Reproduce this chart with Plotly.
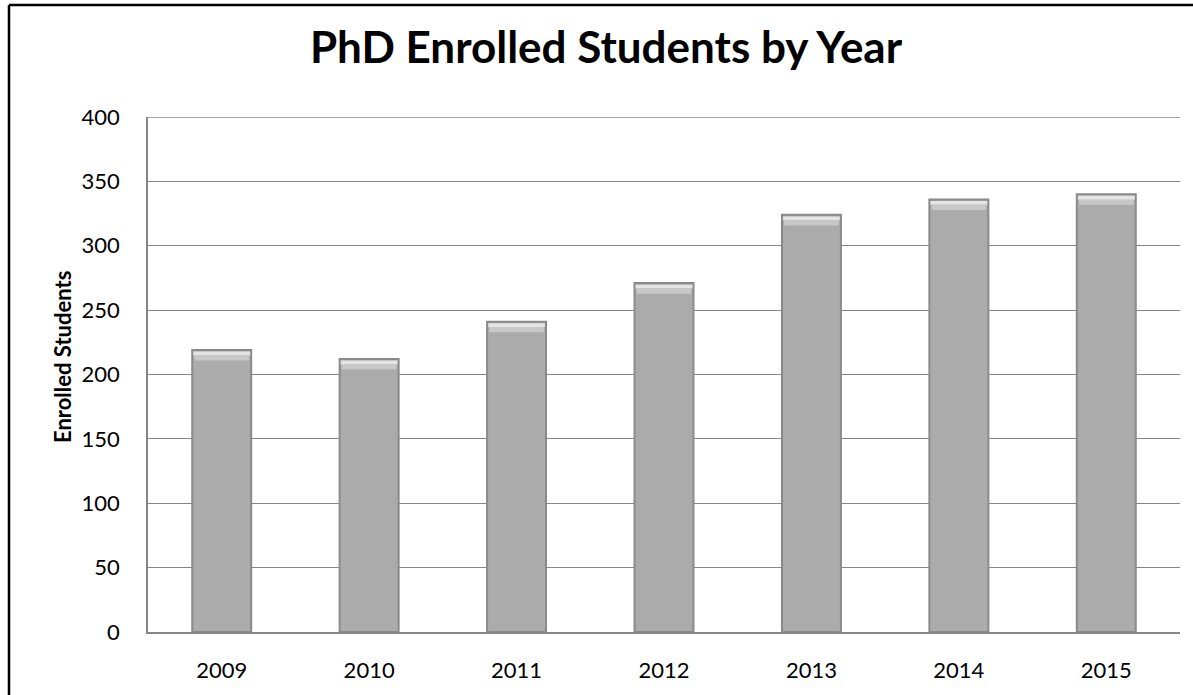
import plotly.graph_objects as go

years = ["2009", "2010", "2011", "2012", "2013", "2014", "2015"]
enrolled = [219, 212, 241, 271, 324, 336, 340]
y_ticks = [0, 50, 100, 150, 200, 250, 300, 350, 400]

FONT = "Lato"
W, H = 1193, 695
L, R, T, B = 148, 13, 117, 63
pw, ph = W - L - R, H - T - B

fig = go.Figure()

# main gray columns
fig.add_trace(go.Bar(
    x=years, y=enrolled,
    marker=dict(color="#ababab", line=dict(color="#8a8a8a", width=2)),
    width=0.4, hoverinfo="x+y",
))
# light bevel bands across each column top
for h, off, col, wd in [(3, 1.2, "#e4e4e4", 0.385), (4, 4.2, "#c8c8c8", 0.37)]:
    fig.add_trace(go.Bar(
        x=years, y=[h] * len(enrolled), base=[v - off - h for v in enrolled],
        marker=dict(color=col, line=dict(width=0)),
        width=wd, hoverinfo="skip",
    ))

def px_x(p):
    return (p - L) / pw

def px_y(p):
    return (H - B - p) / ph

fig.update_layout(
    width=W, height=H,
    margin=dict(l=L, r=R, t=T, b=B),
    paper_bgcolor="white", plot_bgcolor="white",
    barmode="overlay", showlegend=False,
    font=dict(family=FONT, color="black", size=22),
    title=dict(
        text="<b>PhD Enrolled Students by Year</b>",
        x=606 / W, xanchor="center", y=1 - 48 / H, yanchor="middle",
        font=dict(family=FONT, size=44, color="black"),
    ),
    xaxis=dict(
        showline=True, linecolor="#868686", linewidth=1.5,
        ticks="", tickfont=dict(size=22), ticklabelstandoff=18,
        showgrid=False, fixedrange=True,
    ),
    yaxis=dict(
        range=[0, 400], tickvals=y_ticks,
        showline=True, linecolor="#868686", linewidth=1.5,
        showgrid=True, gridcolor="#868686", gridwidth=1,
        ticks="", tickfont=dict(size=22), ticklabelstandoff=22,
        zeroline=False,
    ),
    annotations=[
        dict(text="<b>Enrolled Students</b>", textangle=-90,
             xref="paper", yref="paper", x=px_x(62), y=px_y(357),
             xanchor="center", yanchor="middle", showarrow=False,
             font=dict(family=FONT, size=22, color="black")),
    ],
    shapes=[
        # top gridline at the range limit
        dict(type="line", xref="paper", yref="y", layer="below",
             x0=0, x1=1, y0=y_ticks[-1], y1=y_ticks[-1],
             line=dict(color="#868686", width=1.5)),
        dict(type="line", xref="paper", yref="paper",
             x0=px_x(9), x1=px_x(1300), y0=px_y(5), y1=px_y(5),
             line=dict(color="black", width=2.5)),
        dict(type="line", xref="paper", yref="paper",
             x0=px_x(9), x1=px_x(9), y0=px_y(5), y1=px_y(800),
             line=dict(color="black", width=2.5)),
    ],
)

fig.write_html("out.html")
